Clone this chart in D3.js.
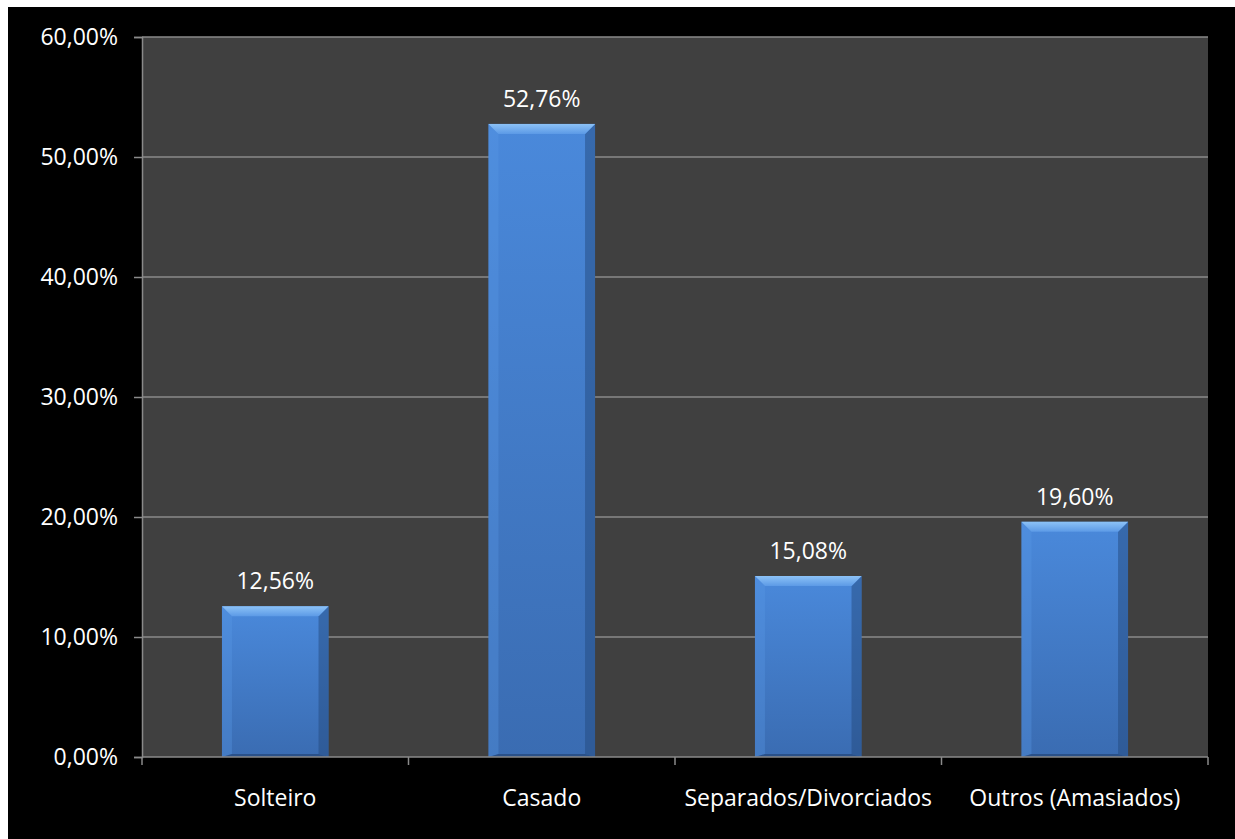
<!DOCTYPE html>
<html>
<head>
<meta charset="utf-8">
<script src="https://cdn.jsdelivr.net/npm/d3@7"></script>
<style>
  html, body { margin: 0; padding: 0; background: #ffffff; }
  svg { display: block; }
  text { font-family: "Open Sans", "Noto Sans", sans-serif; fill: #ffffff; }
</style>
</head>
<body>
<svg id="chart" width="1235" height="839"></svg>
<script>
// Estado civil — distribuição percentual
const categories = ["Solteiro", "Casado", "Separados/Divorciados", "Outros (Amasiados)"];
const values = [12.56, 52.76, 15.08, 19.60];
const yTicks = [0, 10, 20, 30, 40, 50, 60];

const fmt = v => d3.format(".2f")(v).replace(".", ",") + "%";

const svg = d3.select("#chart");
const W = 1235, H = 839;
const margin = { left: 142, right: 27, top: 37, bottom: 82 };
const FS = "23px";

// black chart background (offset by a thin white border)
svg.append("rect").attr("x", 8).attr("y", 7).attr("width", W - 8).attr("height", H - 7).attr("fill", "#000");

const x = d3.scaleBand().domain(categories).range([margin.left, W - margin.right]).paddingInner(0.6).paddingOuter(0.3);
const xOuter = d3.scaleBand().domain(categories).range([margin.left, W - margin.right]);
const y = d3.scaleLinear().domain([0, 60]).range([H - margin.bottom, margin.top]);

// plot area
svg.append("rect")
  .attr("x", margin.left).attr("y", margin.top)
  .attr("width", W - margin.right - margin.left)
  .attr("height", y(0) - margin.top)
  .attr("fill", "#404040");

// gridlines
svg.append("g").selectAll("line").data(yTicks.filter(d => d > 0)).join("line")
  .attr("x1", margin.left).attr("x2", W - margin.right)
  .attr("y1", d => y(d)).attr("y2", d => y(d))
  .attr("stroke", "#8a8a8a").attr("stroke-width", 1.5);

// gradients for the bevelled bars
const defs = svg.append("defs");
const g1 = defs.append("linearGradient").attr("id", "face").attr("x1", 0).attr("y1", 0).attr("x2", 0).attr("y2", 1);
g1.append("stop").attr("offset", "0%").attr("stop-color", "#4a89db");
g1.append("stop").attr("offset", "100%").attr("stop-color", "#3a6cb2");
const g3 = defs.append("linearGradient").attr("id", "topbev").attr("x1", 0).attr("y1", 0).attr("x2", 0).attr("y2", 1);
g3.append("stop").attr("offset", "0%").attr("stop-color", "#8cc2f7");
g3.append("stop").attr("offset", "100%").attr("stop-color", "#5c9ae6");

const bars = svg.append("g").selectAll("g").data(categories.map((c, i) => ({ c, v: values[i] }))).join("g");
const bev = 10;
bars.each(function(d) {
  const g = d3.select(this);
  const x0 = x(d.c), x1 = x0 + x.bandwidth();
  const y0 = y(d.v), y1 = y(0);
  g.append("rect").attr("x", x0).attr("y", y0).attr("width", x1 - x0).attr("height", y1 - y0).attr("fill", "url(#face)");
  // left bevel
  g.append("polygon").attr("points", [[x0, y0], [x0 + bev, y0 + bev], [x0 + bev, y1 - 3], [x0, y1]].join(" "))
    .attr("fill", "#5a98e6").attr("opacity", 0.35);
  // right bevel
  g.append("polygon").attr("points", [[x1, y0], [x1 - bev, y0 + bev], [x1 - bev, y1 - 3], [x1, y1]].join(" "))
    .attr("fill", "#24497d").attr("opacity", 0.5);
  // bottom edge
  g.append("polygon").attr("points", [[x0, y1], [x0 + bev, y1 - 3], [x1 - bev, y1 - 3], [x1, y1]].join(" "))
    .attr("fill", "#1f3f6e").attr("opacity", 0.6);
  // top bevel
  g.append("polygon").attr("points", [[x0, y0], [x1, y0], [x1 - bev, y0 + bev], [x0 + bev, y0 + bev]].join(" "))
    .attr("fill", "url(#topbev)");
  // value label
  g.append("text").attr("x", (x0 + x1) / 2).attr("y", y0 - 17).attr("text-anchor", "middle")
    .attr("font-size", FS).text(fmt(d.v));
});

// axes
const yAxis = d3.axisLeft(y).tickValues(yTicks).tickSize(8).tickFormat(fmt);
const ya = svg.append("g").attr("transform", `translate(${margin.left},0)`).call(yAxis);
ya.select(".domain").attr("stroke", "#8a8a8a").attr("stroke-width", 1.5);
ya.selectAll(".tick line").attr("stroke", "#8a8a8a").attr("stroke-width", 1.5);
ya.selectAll(".tick text").attr("fill", "#fff").attr("font-size", FS).attr("x", -24)
  .style("font-family", '"Open Sans", sans-serif');

const xa = svg.append("g").attr("transform", `translate(0,${y(0)})`)
  .call(d3.axisBottom(x).tickSize(0).tickFormat(d => d));
xa.select(".domain").attr("stroke", "#8a8a8a").attr("stroke-width", 1.5)
  .attr("d", `M${margin.left},0H${W - margin.right}`);
xa.selectAll(".tick text").attr("fill", "#fff").attr("font-size", FS).attr("y", 33)
  .style("font-family", '"Open Sans", sans-serif');
// category separators
const seps = categories.map(c => xOuter(c)).concat([W - margin.right]);
xa.selectAll(".sep").data(seps).join("line").attr("class", "sep")
  .attr("x1", d => d).attr("x2", d => d).attr("y1", 0).attr("y2", 8)
  .attr("stroke", "#8a8a8a").attr("stroke-width", 1.5);
</script>
</body>
</html>
